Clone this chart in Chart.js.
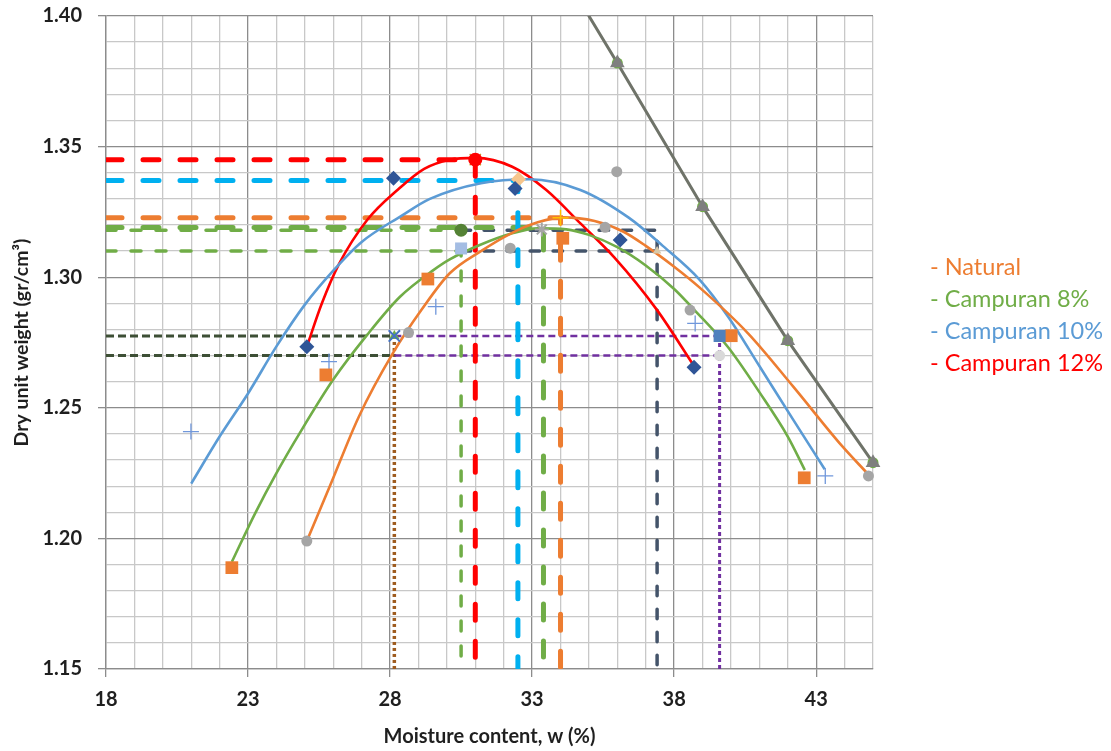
<!DOCTYPE html>
<html>
<head>
<meta charset="utf-8">
<title>Kurva pemadatan</title>
<script src="https://cdn.jsdelivr.net/npm/chart.js@4.4.1/dist/chart.umd.min.js"></script>
<style>
  html, body { margin: 0; padding: 0; background: #ffffff; }
  #wrap { width: 1111px; height: 751px; }
</style>
</head>
<body>
<div id="wrap"><canvas id="compactionChart" width="1111" height="751"></canvas></div>
<script>
// ---- data ----
// fitted curves (moisture %, dry unit weight)
var naturalCurveX = [25.07, 25.9, 26.9, 28.1, 29.1, 30.1, 31.2, 32.3, 33.2, 34.1, 35.2, 36.2, 37.0, 38.0, 38.9, 40.6, 42.2, 43.9, 44.8];
var naturalCurveY = [1.199, 1.2205, 1.2466, 1.2709, 1.2874, 1.3015, 1.310, 1.317, 1.321, 1.3229, 1.3215, 1.3175, 1.312, 1.304, 1.296, 1.2785, 1.258, 1.2355, 1.2249];

var mix8CurveX = [22.43, 23.25, 24.0, 24.83, 26.0, 27.2, 28.35, 29.5, 30.1, 31.2, 32.3, 33.2, 34.2, 35.0, 36.0, 37.0, 38.0, 38.7, 39.9, 41.0, 42.0, 42.6];
var mix8CurveY = [1.191, 1.2096, 1.225, 1.2405, 1.2608, 1.278, 1.2925, 1.3025, 1.3068, 1.3125, 1.3168, 1.3187, 1.3183, 1.3162, 1.3115, 1.3045, 1.2955, 1.2876, 1.2732, 1.256, 1.239, 1.2262];

var mix10CurveX = [21.0, 22.0, 23.0, 24.0, 25.0, 26.0, 27.0, 28.4, 29.4, 31.2, 32.9, 34.7, 36.4, 37.6, 38.9, 39.9, 41.0, 42.2, 43.3];
var mix10CurveY = [1.221, 1.239, 1.2555, 1.2735, 1.2895, 1.3025, 1.3135, 1.3235, 1.330, 1.336, 1.3375, 1.3334, 1.3228, 1.312, 1.299, 1.2849, 1.266, 1.2453, 1.2265];

var mix12CurveX = [25.07, 25.6, 26.2, 27.2, 28.3, 29.2, 30.1, 31.0, 32.3, 33.5, 34.7, 35.9, 37.4, 38.7];
var mix12CurveY = [1.2734, 1.290, 1.305, 1.322, 1.3338, 1.3415, 1.345, 1.3457, 1.3423, 1.3334, 1.3206, 1.3075, 1.2874, 1.266];

// zero air voids line
var zavX = [35.0, 36.0, 39.0, 42.0, 45.0];
var zavY = [1.400, 1.382, 1.327, 1.2757, 1.229];

// measured points
var squareX = [22.43, 25.74, 29.33, 34.08, 40.01, 42.58];
var squareY = [1.1888, 1.2626, 1.2993, 1.3149, 1.2776, 1.2232];
var circleX = [25.07, 28.65, 32.23, 35.57, 35.98, 38.56, 44.84];
var circleY = [1.199, 1.2788, 1.3111, 1.3191, 1.3404, 1.2874, 1.2239];
var plusX = [20.99, 25.85, 29.61, 38.74, 43.32];
var plusY = [1.2409, 1.2677, 1.2887, 1.2823, 1.2239];
var diamondX = [25.07, 28.12, 32.40, 36.10, 38.70];
var diamondY = [1.2734, 1.3379, 1.334, 1.3142, 1.2655];
var triangleX = [36.0, 39.0, 42.0, 45.0];
var triangleY = [1.382, 1.327, 1.2757, 1.229];

// optimum / reference points (w opt, gamma d max)
var optimumW = [31.0, 32.5, 34.0, 33.4, 30.5, 37.4];
var optimumG = [1.345, 1.337, 1.3228, 1.319, 1.310, 1.318];
var band95W = [28.15, 39.6];
var band95G = [1.2775, 1.270];

// axis
var xTickStart = 18, xTickEnd = 45;
var yTickStart = 1.15, yTickEnd = 1.40;

var legendText = ['- Natural', '- Campuran 8%', '- Campuran 10%', '- Campuran 12%'];
var legendColors = ['#ED7D31', '#70AD47', '#5B9BD5', '#FF0000'];

// ---- helpers ----
function pts(xs, ys) {
    return xs.map(function (x, i) { return { x: x, y: ys[i] }; });
}

function curve(xs, ys, color, width) {
    return {
        data: pts(xs, ys),
        showLine: true,
        borderColor: color,
        borderWidth: width,
        pointRadius: 0,
        cubicInterpolationMode: 'monotone',
        order: 2
    };
}

function guide(xs, ys, color, width, dash, cap) {
    return {
        data: pts(xs, ys),
        showLine: true,
        borderColor: color,
        borderWidth: width,
        borderDash: dash,
        borderCapStyle: cap || 'round',
        pointRadius: 0,
        tension: 0,
        order: 3
    };
}

// order 0 sits on top of order 1
function marks(xs, ys, style, radius, fill, stroke, strokeWidth, order) {
    return {
        data: pts(xs, ys),
        showLine: false,
        pointStyle: style,
        pointRadius: radius,
        pointBackgroundColor: fill,
        pointBorderColor: stroke || fill,
        pointBorderWidth: strokeWidth || 0,
        clip: 12,
        order: (order === undefined || order === null) ? 1 : order
    };
}

var yLow = yTickStart;
var xLeft = xTickStart;

var datasets = [
    // dashed guides to the axes
    guide([xLeft, optimumW[0], optimumW[0]], [optimumG[0], optimumG[0], yLow], '#FF0000', 5, [16, 21]),
    guide([xLeft, optimumW[1], optimumW[1]], [optimumG[1], optimumG[1], yLow], '#00B0F0', 5, [16, 21]),
    guide([xLeft, optimumW[2], optimumW[2]], [optimumG[2], optimumG[2], yLow], '#ED7D31', 5, [16, 21]),
    guide([xLeft, optimumW[3], optimumW[3]], [optimumG[3], optimumG[3], yLow], '#70AD47', 5, [16, 21]),
    guide([xLeft, optimumW[4], optimumW[4]], [optimumG[4], optimumG[4], yLow], '#70AD47', 3.5, [10, 15]),
    guide([xLeft, optimumW[4]], [optimumG[5], optimumG[5]], '#70AD47', 3.5, [10, 15]),
    guide([optimumW[4], optimumW[5], optimumW[5]], [optimumG[5], optimumG[5], yLow], '#44546A', 3.5, [9.5, 13.5]),
    guide([optimumW[4], optimumW[5]], [optimumG[4], optimumG[4]], '#44546A', 3.5, [9.5, 13.5]),
    guide([xLeft, band95W[0]], [band95G[0], band95G[0]], '#3D4F35', 3, [8, 4], 'butt'),
    guide([xLeft, band95W[0]], [band95G[1], band95G[1]], '#3D4F35', 3, [8, 4], 'butt'),
    guide([band95W[0], band95W[1]], [band95G[0], band95G[0]], '#7030A0', 2.5, [7, 4], 'butt'),
    guide([band95W[0], band95W[1]], [band95G[1], band95G[1]], '#7030A0', 2.5, [7, 4], 'butt'),
    guide([band95W[0], band95W[0]], [band95G[0], yLow], '#9E5B1E', 3.5, [3, 3], 'butt'),
    guide([band95W[1], band95W[1]], [band95G[0], yLow], '#7030A0', 3, [4, 3], 'butt'),

    // fitted curves
    curve(naturalCurveX, naturalCurveY, '#ED7D31', 2.6),
    curve(mix8CurveX, mix8CurveY, '#70AD47', 2.6),
    curve(mix10CurveX, mix10CurveY, '#5B9BD5', 2.6),
    curve(mix12CurveX, mix12CurveY, '#FF0000', 2.6),
    Object.assign(guide(zavX, zavY, '#6F7369', 3, []), { order: 2 }),

    // measured points
    marks(triangleX, triangleY, 'circle', 5.5, '#70AD47', null, 0, 1),
    marks(triangleX, triangleY, 'triangle', 8.5, '#7F7F7F', null, 0, 0),
    marks(squareX, squareY, 'rect', 9, '#ED7D31'),
    marks(circleX, circleY, 'circle', 5.5, '#A5A5A5'),
    marks(plusX, plusY, 'cross', 8, '#7097DB', '#7097DB', 1.3),
    marks([optimumW[1] + 0.02], [optimumG[1] + 0.0005], 'rectRot', 7.5, '#F6C58C', null, 0, 1),
    marks(diamondX, diamondY, 'rectRot', 7.5, '#2F5597', null, 0, 0),

    // markers at the optimum and 95% points
    marks([optimumW[0]], [optimumG[0]], 'circle', 7, '#FF0000', null, 0, 0),
    marks([optimumW[0]], [optimumG[0]], 'crossRot', 8, '#C9A227', '#C9A227', 1.3, 0),
    marks([33.34], [1.3183], 'star', 7, '#A5A5A5', '#A5A5A5', 2, 0),
    marks([optimumW[2]], [optimumG[2]], 'cross', 8, '#FFC000', '#FFC000', 1.5, 0),
    marks([optimumW[4]], [optimumG[5]], 'circle', 6.5, '#548235', null, 0, 0),
    marks([optimumW[4]], [optimumG[4] + 0.001], 'rect', 8.5, '#A4BDE3', null, 0, 0),
    marks([optimumW[5]], [optimumG[4]], 'triangle', 5, '#D8C8A8', null, 0, 0),
    marks([band95W[0]], [band95G[0]], 'triangle', 6, '#70AD47', null, 0, 1),
    marks([band95W[0]], [band95G[0]], 'crossRot', 8, '#4472C4', '#4472C4', 2, 0),
    marks([band95W[1]], [band95G[0]], 'rect', 8.5, '#4F81BD', null, 0, 0),
    marks([band95W[1]], [band95G[1]], 'circle', 5.5, '#D9D9D9', null, 0, 0)
];

function isMajorX(v) { return Math.round(v - xTickStart) % 5 === 0; }
function isMajorY(v) { return Math.round(v * 100) % 5 === 0; }

var tickFont = { family: 'Lato', size: 20, weight: 'bold' };
var majorGrid = '#8c8c8c';
var minorGrid = '#c8c8c8';

// right-hand colored legend text
var sideLegend = {
    id: 'sideLegend',
    afterDraw: function (chart) {
        var ctx = chart.ctx;
        ctx.save();
        ctx.font = '23.5px Lato';
        ctx.textBaseline = 'middle';
        ctx.textAlign = 'left';
        for (var i = 0; i < legendText.length; i++) {
            ctx.fillStyle = legendColors[i];
            ctx.fillText(legendText[i], 930, 267 + i * 32);
        }
        ctx.restore();
    }
};

new Chart(document.getElementById('compactionChart'), {
    type: 'scatter',
    data: { datasets: datasets },
    plugins: [sideLegend],
    options: {
        responsive: false,
        animation: false,
        events: [],
        layout: { padding: { left: 10, right: 238, top: 16, bottom: 2 } },
        plugins: {
            legend: { display: false },
            tooltip: { enabled: false }
        },
        scales: {
            x: {
                type: 'linear',
                min: xTickStart,
                max: xTickEnd,
                afterBuildTicks: function (scale) {
                    var t = [];
                    for (var v = xTickStart; v <= xTickEnd; v++) t.push({ value: v });
                    scale.ticks = t;
                },
                afterFit: function (scale) {
                    scale.height = 80;
                    scale.paddingLeft = 0;
                    scale.paddingRight = 0;
                },
                ticks: {
                    autoSkip: false,
                    maxRotation: 0,
                    padding: 11,
                    color: '#1f1f1f',
                    font: tickFont,
                    callback: function (v) { return isMajorX(v) ? String(Math.round(v)) : ''; }
                },
                grid: {
                    color: function (c) { return isMajorX(c.tick.value) ? majorGrid : minorGrid; },
                    tickColor: function (c) { return isMajorX(c.tick.value) ? majorGrid : 'rgba(0,0,0,0)'; },
                    tickLength: 8,
                    lineWidth: 1.3
                },
                border: { color: majorGrid, width: 1.3 },
                title: {
                    display: true,
                    text: 'Moisture content, w (%)',
                    color: '#1f1f1f',
                    font: { family: 'Lato', size: 20, weight: 'bold' },
                    padding: 0
                }
            },
            y: {
                type: 'linear',
                min: yTickStart,
                max: yTickEnd,
                afterBuildTicks: function (scale) {
                    var t = [];
                    for (var k = 115; k <= 140; k++) t.push({ value: k / 100 });
                    scale.ticks = t;
                },
                afterFit: function (scale) {
                    scale.width = 96;
                    scale.paddingTop = 0;
                    scale.paddingBottom = 0;
                },
                ticks: {
                    autoSkip: false,
                    padding: 16,
                    color: '#1f1f1f',
                    font: tickFont,
                    callback: function (v) { return isMajorY(v) ? v.toFixed(2) : ''; }
                },
                grid: {
                    color: function (c) { return isMajorY(c.tick.value) ? majorGrid : minorGrid; },
                    tickColor: function (c) { return isMajorY(c.tick.value) ? majorGrid : 'rgba(0,0,0,0)'; },
                    tickLength: 8,
                    lineWidth: 1.3
                },
                border: { color: majorGrid, width: 1.3 },
                title: {
                    display: true,
                    text: 'Dry unit weight (gr/cm³)',
                    color: '#1f1f1f',
                    font: { family: 'Lato', size: 19.5, weight: 'bold' },
                    padding: 0
                }
            }
        }
    }
});
</script>
</body>
</html>
